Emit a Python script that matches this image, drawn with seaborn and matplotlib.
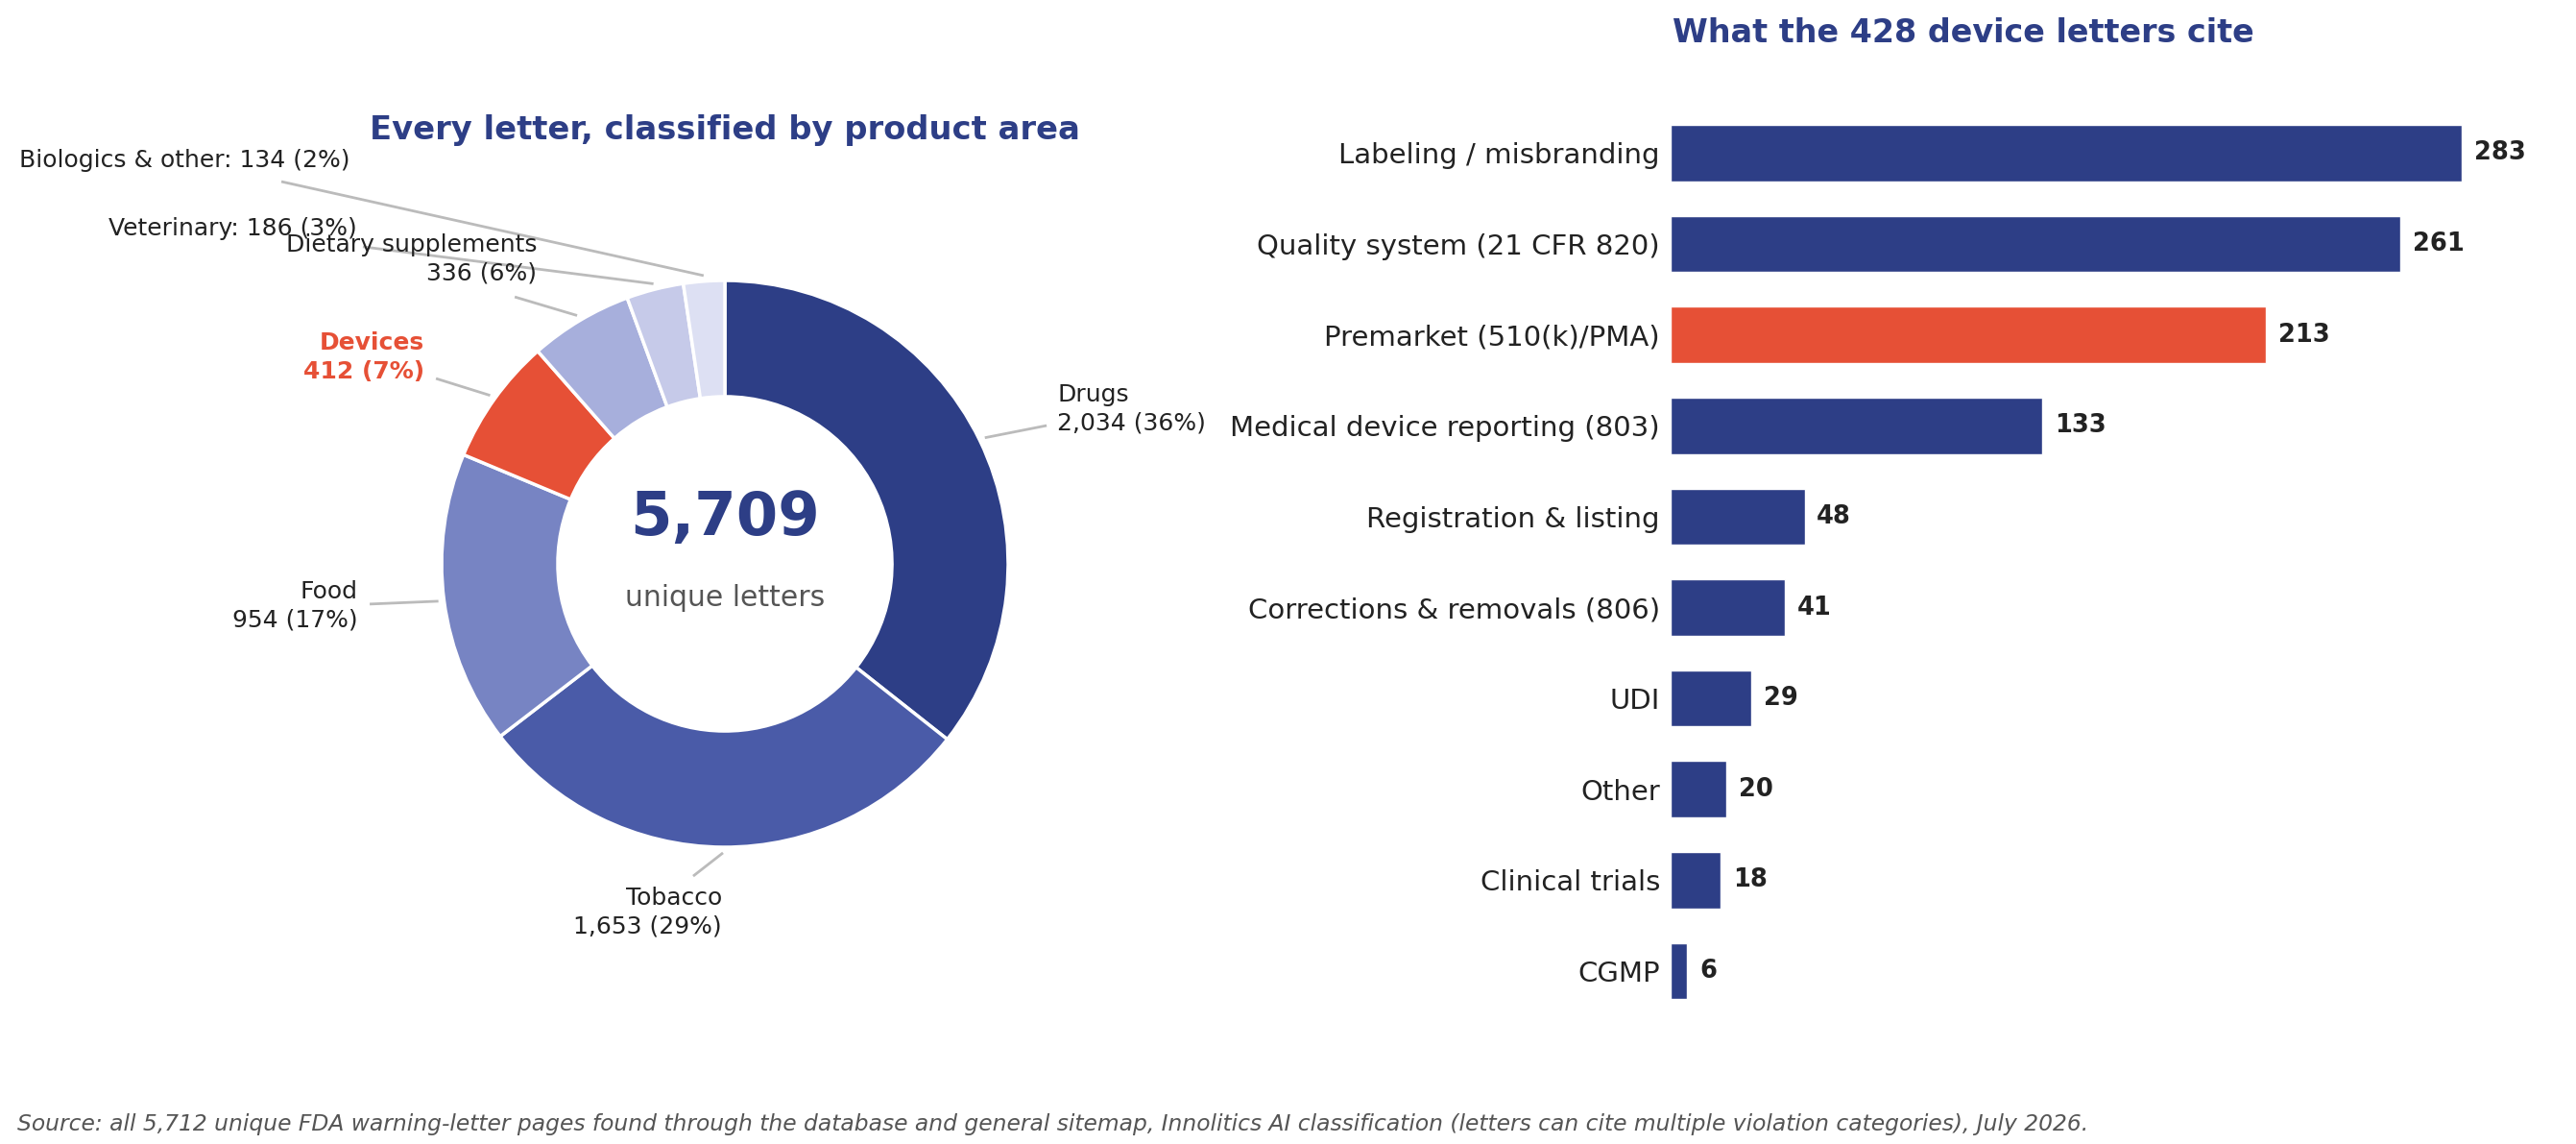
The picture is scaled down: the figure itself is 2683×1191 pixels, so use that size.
import numpy as np
import pandas as pd
import matplotlib
matplotlib.use("Agg")
import matplotlib.pyplot as plt
import seaborn as sns

# ---------------- data ----------------
area_names = ["Drugs", "Tobacco", "Food", "Devices", "Dietary supplements",
              "Veterinary", "Biologics & other"]
area_counts = [2034, 1653, 954, 412, 336, 186, 134]
area_labels = ["Drugs\n2,034 (36%)", "Tobacco\n1,653 (29%)", "Food\n954 (17%)",
               "Devices\n412 (7%)", "Dietary supplements\n336 (6%)",
               "Veterinary: 186 (3%)", "Biologics & other: 134 (2%)"]
total_text = "5,709"
total_sub = "unique letters"

cite_categories = ["Labeling / misbranding", "Quality system (21 CFR 820)",
                   "Premarket (510(k)/PMA)", "Medical device reporting (803)",
                   "Registration & listing", "Corrections & removals (806)",
                   "UDI", "Other", "Clinical trials", "CGMP"]
cite_counts = [283, 261, 213, 133, 48, 41, 29, 20, 18, 6]
highlight_category = "Premarket (510(k)/PMA)"

title_left = "Every letter, classified by product area"
title_right = "What the 428 device letters cite"
source_text = ("Source: all 5,712 unique FDA warning-letter pages found through the database "
               "and general sitemap, Innolitics AI classification (letters can cite multiple "
               "violation categories), July 2026.")

# ---------------- style ----------------
NAVY = "#2d3e86"
ORANGE = "#e65036"
TEXT = "#222222"
area_colors = [NAVY, "#4a5ba8", "#7784c3", ORANGE, "#a7afdc", "#c6cae9", "#dde0f3"]

sns.set_theme(style="white")
plt.rcParams["font.family"] = ["DejaVu Sans"]

W, H = 2683, 1191
fig = plt.figure(figsize=(W / 100, H / 100), dpi=100)
fig.patch.set_facecolor("white")

# ---------------- donut ----------------
cx, cy, R = 755, 587, 295      # pixel geometry
half = 560
ax_pie = fig.add_axes([(cx - half) / W, (H - cy - half) / H, 2 * half / W, 2 * half / H])
wedges, _ = ax_pie.pie(area_counts, colors=area_colors, startangle=90, counterclock=False,
                       radius=1.0,
                       wedgeprops=dict(width=0.41, edgecolor="white", linewidth=2.5))
lim = half / R
ax_pie.set_xlim(-lim, lim)
ax_pie.set_ylim(-lim, lim)
ax_pie.set_aspect("equal")
ax_pie.axis("off")

# label placement (text anchor x, y, ha, leader start x, y) in radius units
label_pos = [
    (1.173, 0.546, "left", 1.136, 0.488),
    (-0.010, -1.231, "right", -0.112, -1.102),
    (-1.295, -0.149, "right", -1.254, -0.142),
    (-1.061, 0.729, "right", -1.020, 0.654),
    (-0.664, 1.075, "right", -0.742, 0.942),
    (-1.300, 1.183, "right", -1.278, 1.119),
    (-1.325, 1.424, "right", -1.566, 1.349),
]
for w, lab, name, (tx, ty, ha, lx, ly) in zip(wedges, area_labels, area_names, label_pos):
    mid = np.deg2rad((w.theta1 + w.theta2) / 2)
    ex, ey = 1.02 * np.cos(mid), 1.02 * np.sin(mid)
    ax_pie.plot([lx, ex], [ly, ey], color="#bbbbbb", lw=2, solid_capstyle="butt",
                clip_on=False, zorder=1)
    is_dev = name == "Devices"
    ax_pie.text(tx, ty, lab, ha=ha, va="center", fontsize=18,
                color=ORANGE if is_dev else TEXT,
                fontweight="bold" if is_dev else "normal",
                linespacing=1.3, clip_on=False)

ax_pie.text(0, 0.16, total_text, ha="center", va="center", fontsize=45,
            fontweight="bold", color=NAVY)
ax_pie.text(0, -0.12, total_sub, ha="center", va="center", fontsize=21.5, color="#555555")

fig.text(cx / W, 1 - 135 / H, title_left, ha="center", va="center", fontsize=24.3,
         fontweight="bold", color=NAVY)

# ---------------- bars ----------------
bar_left, px_per_unit = 1740, 2.912
top0, pitch = 159.5, 94.6
n = len(cite_categories)
ax_top = top0 - 0.5 * pitch
ax_h = n * pitch
xmax = 310
ax_bar = fig.add_axes([bar_left / W, (H - ax_top - ax_h) / H, xmax * px_per_unit / W, ax_h / H])

df = pd.DataFrame({"category": cite_categories, "count": cite_counts})
bar_colors = {c: (ORANGE if c == highlight_category else NAVY) for c in cite_categories}
sns.barplot(data=df, x="count", y="category", hue="category", palette=bar_colors,
            order=cite_categories, width=0.62, legend=False, saturation=1, ax=ax_bar)
ax_bar.set_xlim(0, xmax)
ax_bar.set_ylim(n - 0.5, -0.5)
ax_bar.set_xlabel("")
ax_bar.set_ylabel("")
ax_bar.set_xticks([])
for s in ax_bar.spines.values():
    s.set_visible(False)
ax_bar.tick_params(axis="y", length=0, pad=8, labelsize=21, labelcolor=TEXT)
for i, v in enumerate(cite_counts):
    ax_bar.annotate(f"{v}", xy=(v, i), xytext=(9, 0), textcoords="offset points",
                    ha="left", va="center", fontsize=18.5, fontweight="bold", color=TEXT)

fig.text(1742 / W, 1 - 35 / H, title_right, ha="left", va="center", fontsize=24,
         fontweight="bold", color=NAVY)

# ---------------- source ----------------
fig.text(18 / W, 1 - 1170 / H, source_text, ha="left", va="center", fontsize=16.85,
         style="italic", color="#555555")

fig.savefig("out.png", dpi=100, facecolor="white")
